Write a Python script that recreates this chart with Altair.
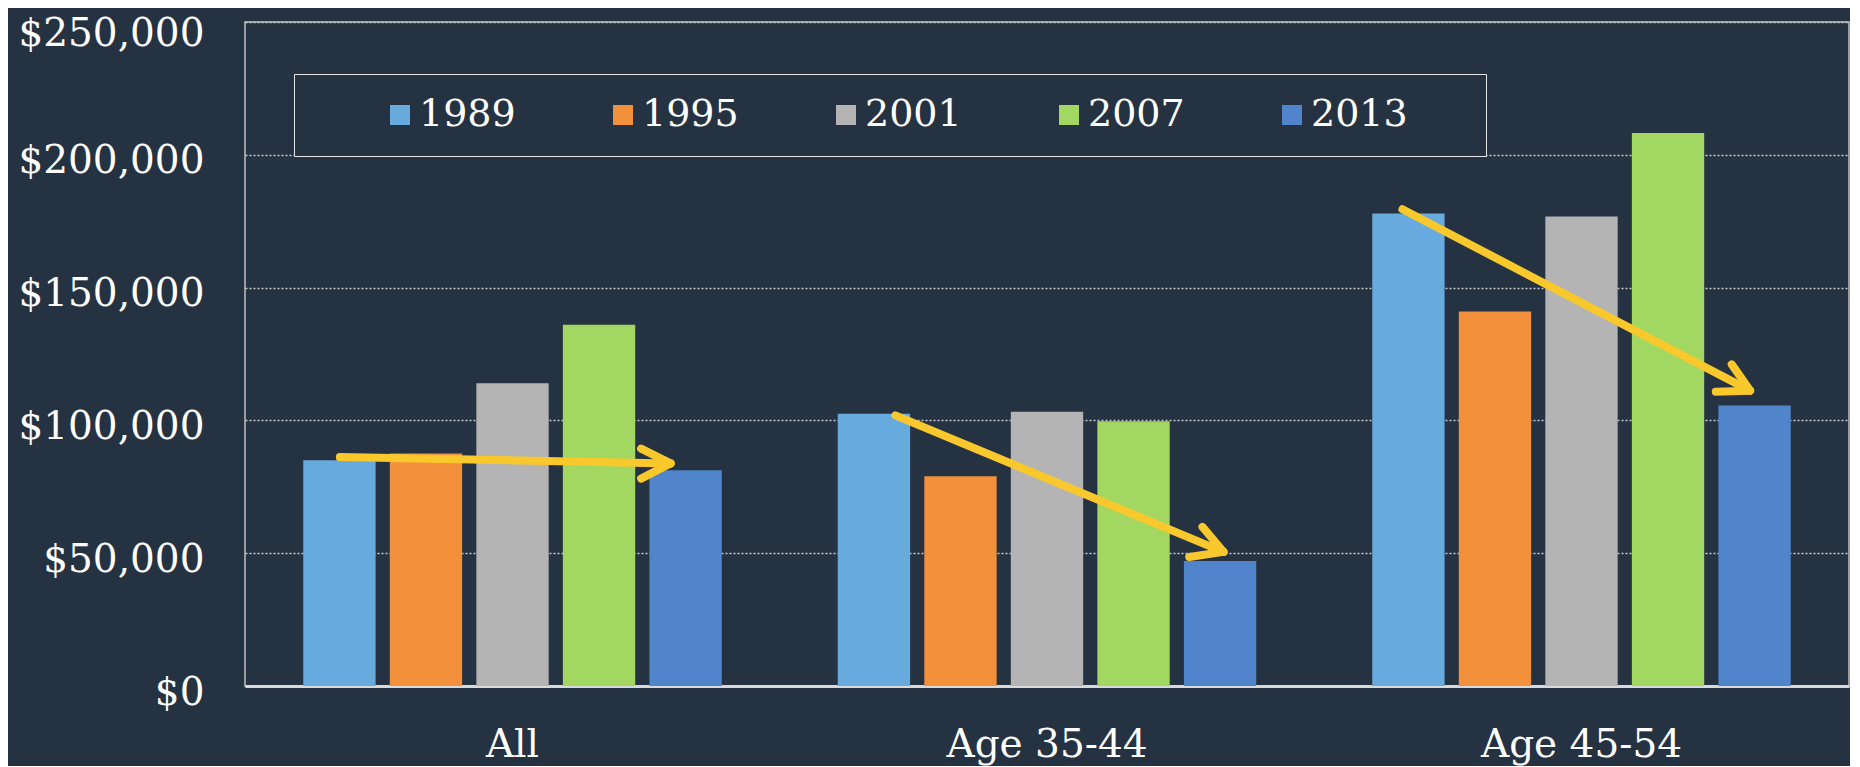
import altair as alt
import pandas as pd

# ---- data ----
groups = ["All", "Age 35-44", "Age 45-54"]
years = ["1989", "1995", "2001", "2007", "2013"]
vals_all = [85000, 87500, 114000, 136000, 81200]
vals_35_44 = [102500, 79000, 103300, 99700, 47100]
vals_45_54 = [177900, 141000, 176800, 208200, 105600]
colors = ["#67AADD", "#F2903B", "#B4B4B4", "#A2D761", "#5085CC"]
y_ticks = [0, 50000, 100000, 150000, 200000, 250000]

# yellow trend arrows (x in group units 0..3, y in dollars)
arrow_start_x = [0.1774, 1.2163, 2.1648]
arrow_start_y = [86200, 101900, 179500]
arrow_tip_x = [0.7960, 1.8300, 2.8150]
arrow_tip_y = [83800, 50500, 111200]
head_upper_x = [0.7408, 1.7908, 2.7807]
head_upper_y = [89400, 59900, 121100]
head_lower_x = [0.7408, 1.7660, 2.7508]
head_lower_y = [78100, 48600, 110800]

BG = "#253241"
FONT = "DejaVu Serif"

rows = []
for g, vals in zip(groups, [vals_all, vals_35_44, vals_45_54]):
    for yr, v in zip(years, vals):
        rows.append({"group": g, "year": yr, "value": v})
df = pd.DataFrame(rows)

segs = []
for i in range(len(arrow_start_x)):
    tx, ty = arrow_tip_x[i], arrow_tip_y[i]
    segs.append({"x": arrow_start_x[i], "y": arrow_start_y[i], "x2": tx, "y2": ty})
    segs.append({"x": head_upper_x[i], "y": head_upper_y[i], "x2": tx, "y2": ty})
    segs.append({"x": head_lower_x[i], "y": head_lower_y[i], "x2": tx, "y2": ty})
seg_df = pd.DataFrame(segs)

# invisible (blank braille) filler after the last legend label widens the legend frame
filler = "\u2800" * 2
label_expr = "datum.label == '2013' ? datum.label + '" + filler + "' : datum.label"

y_axis = alt.Axis(
    title=None,
    values=y_ticks,
    format="$,.0f",
    labelFont=FONT,
    labelFontSize=39,
    labelColor="#ffffff",
    labelPadding=41,
    labelOffset={"condition": {"test": "datum.value >= 250000", "value": 11}, "value": 6},
    labelLimit=400,
    ticks=False,
    domain=False,
    grid=True,
    gridColor="#c8c8c8",
    gridDash=[2, 2],
    gridWidth=1.3,
)
y_scale = alt.Scale(domain=[0, 250000], nice=False)

bars = alt.Chart(df).mark_bar(strokeWidth=0).encode(
    x=alt.X(
        "group:N",
        sort=groups,
        scale=alt.Scale(paddingInner=0.217, paddingOuter=0.109),
        axis=alt.Axis(
            title=None,
            labelAngle=0,
            labelFont=FONT,
            labelFontSize=39,
            labelColor="#ffffff",
            labelPadding=39,
            labelLimit=600,
            ticks=False,
            domain=True,
            domainColor="#d9d9d9",
            domainWidth=3,
            grid=False,
        ),
    ),
    xOffset=alt.XOffset(
        "year:N", sort=years, scale=alt.Scale(paddingInner=0.164, paddingOuter=0)
    ),
    y=alt.Y("value:Q", scale=y_scale, axis=y_axis),
    color=alt.Color(
        "year:N",
        sort=years,
        scale=alt.Scale(domain=years, range=colors),
        legend=alt.Legend(
            title=" ",
            titleOrient="left",
            titleFontSize=1,
            titlePadding=65,
            orient="none",
            legendX=49,
            legendY=52,
            direction="horizontal",
            fillColor=BG,
            strokeColor="#e6e6e6",
            padding=22,
            symbolType="square",
            symbolSize=400,
            symbolStrokeWidth=0,
            symbolOpacity=1,
            labelFont=FONT,
            labelFontSize=38,
            labelColor="#ffffff",
            labelOffset=0,
            labelLimit=600,
            columnPadding=88,
            labelExpr=label_expr,
        ),
    ),
)

arrows = alt.Chart(seg_df).mark_rule(
    color="#F9C82C", strokeWidth=8, strokeCap="round"
).encode(
    x=alt.X("x:Q", scale=alt.Scale(domain=[0, 3], nice=False, zero=False), axis=None),
    x2="x2:Q",
    y=alt.Y("y:Q", scale=y_scale, axis=y_axis),
    y2="y2:Q",
)

chart = (
    alt.layer(bars, arrows)
    .resolve_scale(x="independent")
    .properties(
        width=1604,
        height=664,
        autosize=alt.AutoSizeParams(type="none"),
        padding={"left": 237, "top": 14, "right": 1, "bottom": 80},
        background=BG,
    )
    .configure_view(stroke="#c0c0c0", strokeWidth=1.5)
)

chart.save("out.html", embed_options={"renderer": "svg", "actions": False})
